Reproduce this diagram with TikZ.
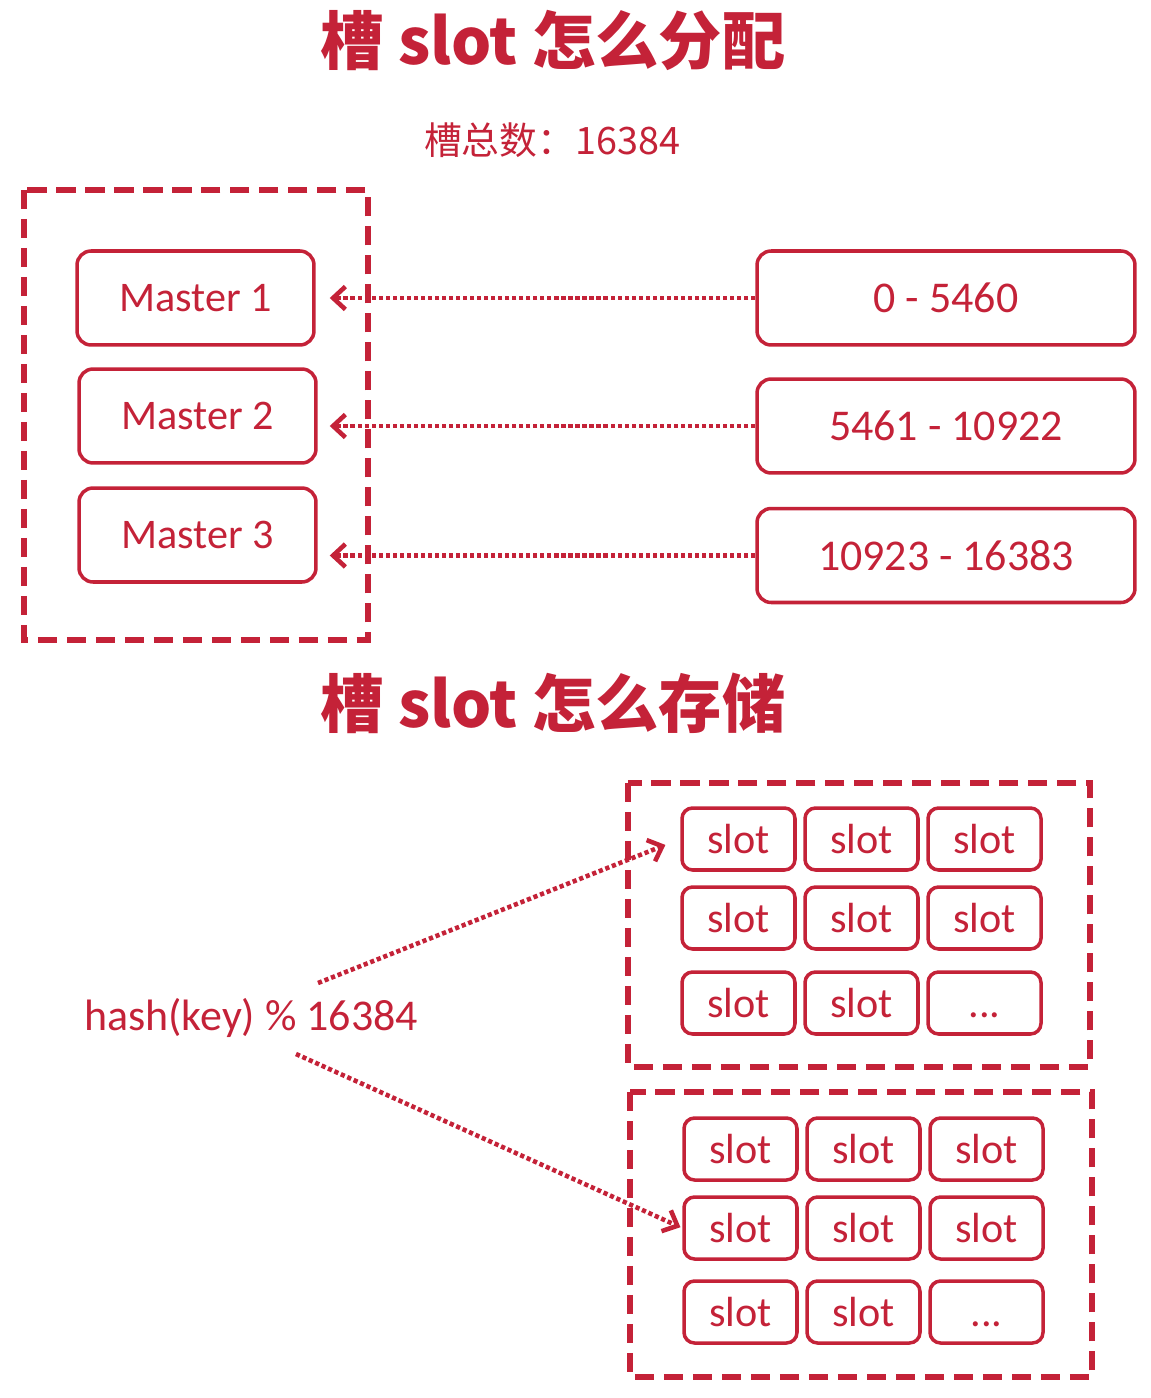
\documentclass[tikz,border=0pt]{standalone}
\usepackage{fontspec}
\usepackage{xcolor}
\usetikzlibrary{arrows.meta}
\setmainfont{Carlito}
\newfontfamily\cjk{Noto Sans CJK SC}
\definecolor{slotred}{RGB}{196,34,56}

\tikzset{
  box/.style={draw=slotred, line width=2pt, rounded corners=8pt, text=slotred,
    font=\fontsize{24}{28}\selectfont, inner sep=0pt},
  masterbox/.style={box, minimum width=4.74cm, minimum height=1.88cm},
  rangebox/.style={box, font=\fontsize{25}{28}\selectfont, minimum width=7.56cm, minimum height=1.88cm},
  slotbox/.style={box, rounded corners=6pt, minimum width=2.26cm, minimum height=1.24cm},
  groupbox/.style={draw=slotred, line width=3pt, dash pattern=on 11pt off 5.5pt},
  dotarrow/.style={draw=slotred, line width=2.6pt, dash pattern=on 2.4pt off 1.6pt,
    -{Straight Barb[length=7pt,width=13pt,line width=2.6pt]}},
}

\begin{document}
\begin{tikzpicture}[x=0.02cm, y=-0.02cm]
    \useasboundingbox (0,0) rectangle (1150,1398);

    % titles
    \node[text=slotred, font=\cjk\bfseries\fontsize{36}{40}\selectfont] (title1) at (553,40) {槽 slot 怎么分配};
    \node[text=slotred, font=\cjk\fontsize{21.5}{24}\selectfont] (total) at (552,140) {槽总数：16384};

    % masters
    \draw[groupbox] (24,190) rectangle (368,640);
    \node[masterbox] (m1) at (195.5,298) {Master 1};
    \node[masterbox] (m2) at (197.5,416) {Master 2};
    \node[masterbox] (m3) at (197.5,535) {Master 3};

    % slot ranges
    \node[rangebox] (r1) at (946,298) {0 - 5460};
    \node[rangebox] (r2) at (946,426) {5461 - 10922};
    \node[rangebox] (r3) at (946,555.5) {10923 - 16383};

    \draw[dotarrow, shorten >=14*0.02cm] (r1.west) -- (m1.east |- r1.west);
    \draw[dotarrow, shorten >=12*0.02cm] (r2.west) -- (m2.east |- r2.west);
    \draw[dotarrow, shorten >=12*0.02cm] (r3.west) -- (m3.east |- r3.west);

    \node[text=slotred, font=\cjk\bfseries\fontsize{36}{40}\selectfont] (title2) at (553,703) {槽 slot 怎么存储};

    % slot groups
    \draw[groupbox] (628,783) rectangle (1090,1067);
    \draw[groupbox] (630,1092) rectangle (1092,1377);

    \foreach \r/\y in {1/839, 2/918, 3/1003} {
      \node[slotbox] (a\r1) at (738.5,\y) {slot};
      \node[slotbox] (a\r2) at (861.5,\y) {slot};
    }
    \node[slotbox] (a13) at (984.5,839) {slot};
    \node[slotbox] (a23) at (984.5,918) {slot};
    \node[slotbox] (a33) at (984.5,1003) {\vphantom{l}.{}.{}.};

    \foreach \r/\y in {1/1149, 2/1228, 3/1312} {
      \node[slotbox] (b\r1) at (740.5,\y) {slot};
      \node[slotbox] (b\r2) at (863.5,\y) {slot};
    }
    \node[slotbox] (b13) at (986.5,1149) {slot};
    \node[slotbox] (b23) at (986.5,1228) {slot};
    \node[slotbox] (b33) at (986.5,1312) {\vphantom{l}.{}.{}.};

    % hash
    \node[text=slotred, font=\fontsize{25}{28}\selectfont] (hash) at (251,1018) {hash(key) \% 16384};
    \coordinate (h1) at (318,983);
    \coordinate (h2) at (296,1054);
    \draw[dotarrow, shorten >=16*0.02cm] (h1) -- (a11.west);
    \draw[dotarrow, shorten >=2*0.02cm] (h2) -- (b21.west);
\end{tikzpicture}
\end{document}
